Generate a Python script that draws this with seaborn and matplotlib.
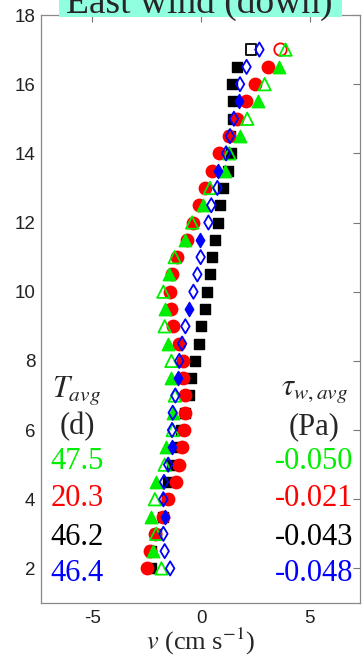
import numpy as np
import pandas as pd
import matplotlib
matplotlib.use("Agg")
import matplotlib.pyplot as plt
from matplotlib.patches import Rectangle
import seaborn as sns

# --- Data ---
depth = [17, 16.5, 16, 15.5, 15, 14.5, 14, 13.5, 13, 12.5, 12, 11.5, 11, 10.5, 10,
         9.5, 9, 8.5, 8, 7.5, 7, 6.5, 6, 5.5, 5, 4.5, 4, 3.5, 3, 2.5, 2]

v_green = [3.88, 3.56, 2.92, 2.61, 2.12, 1.79, 1.30, 1.12, 0.41, 0.11, -0.41, -0.75, -1.21, -1.45, -1.73,
           -1.67, -1.67, -1.51, -1.36, -1.39, -1.20, -1.30, -1.30, -1.61, -1.67, -2.06, -2.12, -2.31, -2.06, -2.19, -1.82]
v_red = [3.65, 3.07, 2.46, 2.06, 1.64, 1.30, 0.84, 0.50, 0.20, -0.11, -0.35, -0.66, -1.09, -1.33, -1.42,
         -1.39, -1.27, -1.02, -0.84, -0.81, -0.75, -0.72, -0.78, -0.89, -0.99, -1.16, -1.50, -1.76, -2.10, -2.34, -2.49]
v_black = [2.29, 1.67, 1.42, 1.48, 1.45, 1.35, 1.39, 1.24, 1.02, 0.87, 0.78, 0.66, 0.50, 0.41, 0.29,
           0.17, 0.02, -0.11, -0.29, -0.44, -0.56, -0.75, -0.90, -1.15, -1.34, -1.50, -1.55, -1.75, -2.05, -2.30, -2.31]
v_blue = [2.68, 2.09, 1.79, 1.76, 1.51, 1.33, 1.15, 0.78, 0.75, 0.47, 0.34, -0.05, -0.02, -0.17, -0.35,
          -0.56, -0.72, -0.87, -1.00, -1.06, -1.18, -1.30, -1.33, -1.33, -1.51, -1.70, -1.73, -1.67, -1.73, -1.67, -1.42]

T_avg = ["47.5", "20.3", "46.2", "46.4"]
tau_avg = ["-0.050", "-0.021", "-0.043", "-0.048"]

df = pd.DataFrame({"z": depth, "green": v_green, "red": v_red, "black": v_black, "blue": v_blue})
z = df["z"].values
# filled / open markers
filled = {
    "green": (z * 2) % 2 == 1,
    "red": z < 17,
    "black": z < 17,
    "blue": (z - 1.5) % 2 == 0,
}

sns.set_style("white")
plt.rcParams["mathtext.fontset"] = "stix"
plt.rcParams["font.family"] = ["Liberation Sans", "DejaVu Sans"]

fig = plt.figure(figsize=(3.62, 6.58), dpi=100)
ax = fig.add_axes([41 / 362, 1 - 603 / 658, 319 / 362, 588 / 658])

colors = {"green": "#00ee00", "red": "#ff0000", "black": "#000000", "blue": "#0000ff"}
markers = {"green": "^", "red": "o", "black": "s", "blue": "d"}
sizes = {"green": 80, "red": 80, "black": 55, "blue": 52}

for key in ["black", "red", "green", "blue"]:
    col = colors[key]
    m = filled[key]
    sns.scatterplot(data=df[m], x=key, y="z", marker=markers[key], s=sizes[key],
                    color=col, edgecolor=col, linewidth=1.0, ax=ax, zorder=3)
    sns.scatterplot(data=df[~m], x=key, y="z", marker=markers[key], s=sizes[key],
                    color=col, facecolor="none", edgecolor=col, linewidth=1.3, ax=ax, zorder=4)

ax.set_xlim(-7.35, 7.3)
ax.set_ylim(1, 18)
ax.set_xticks([-5, 0, 5])
ax.set_xticklabels(["-5", "0", "5"])
ax.set_yticks(range(2, 19, 2))
ax.tick_params(direction="in", top=True, right=True, length=5, width=0.8,
               color="#777777", labelsize=13.5, labelcolor="#222222")
ax.tick_params(axis="y", pad=4)
ax.tick_params(axis="x", pad=5)
for sp in ax.spines.values():
    sp.set_color("#888888")
    sp.set_linewidth(0.9)

ax.set_ylabel("")
ax.set_xlabel(r"$v$ (cm s$^{\mathrm{-1}}$)", family="Liberation Serif", fontsize=19, labelpad=-1)

serif = dict(family="Liberation Serif", fontsize=22, ha="center", va="center")
ax.text(-5.7, 7.15, r"$T_{avg}$", **serif)
ax.text(-5.7, 6.1, "(d)", **serif)
ax.text(5.2, 7.15, r"$\tau_{w,avg}$", **serif)
ax.text(5.2, 6.1, "(Pa)", **serif)
ypos = [5.08, 4.01, 2.88, 1.84]
for i, key in enumerate(["green", "red", "black", "blue"]):
    ax.text(-5.7, ypos[i], T_avg[i], color=colors[key], **serif)
    ax.text(5.2, ypos[i], tau_avg[i], color=colors[key], **serif)

# title box (clipped by the top of the image)
fig.patches.append(Rectangle((59 / 362, 1 - 17 / 658), 283 / 362, 40 / 658,
                             transform=fig.transFigure, facecolor="#90ffe0",
                             edgecolor="none", zorder=5))
fig.text(199.5 / 362, 1 - 13 / 658, "East wind (down)", family="Liberation Serif",
         fontsize=27, ha="center", va="baseline", zorder=6)

fig.savefig("out.png", dpi=100)
